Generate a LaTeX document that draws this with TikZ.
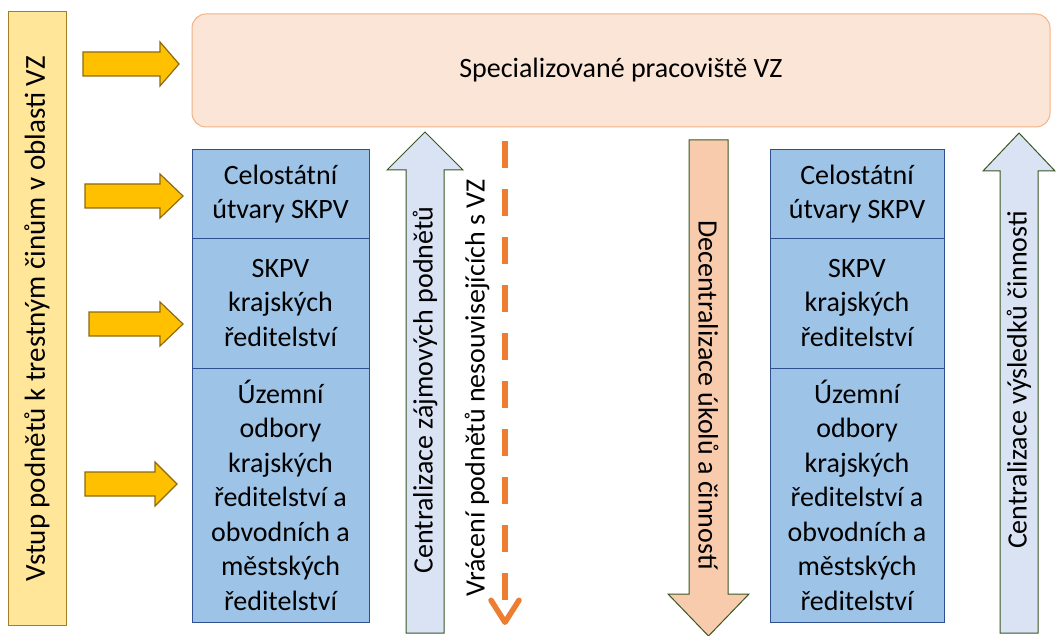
\documentclass[tikz,border=0pt]{standalone}
\usepackage{fontspec}
\setmainfont{Carlito}
\usetikzlibrary{arrows.meta}
\definecolor{inFill}{HTML}{FFE699}
\definecolor{inDraw}{HTML}{A08020}
\definecolor{yaFill}{HTML}{FFC000}
\definecolor{yaDraw}{HTML}{8C6A10}
\definecolor{specFill}{HTML}{FBE5D6}
\definecolor{specDraw}{HTML}{F4B183}
\definecolor{blueFill}{HTML}{9DC3E6}
\definecolor{blueDraw}{HTML}{2F4F8F}
\definecolor{upFill}{HTML}{DAE3F3}
\definecolor{downFill}{HTML}{F8CBAD}
\definecolor{arDraw}{HTML}{385723}
\definecolor{dashCol}{HTML}{ED7D31}
\begin{document}
\begin{tikzpicture}[x=1pt,y=-1pt,
  every node/.style={font=\fontsize{28}{34.5}\selectfont, text=black, inner sep=0pt},
  inbox/.style={draw=inDraw, fill=inFill, line width=1pt},
  yarrow/.style={draw=yaDraw, fill=yaFill, line width=1.2pt},
  specbox/.style={draw=specDraw, fill=specFill, line width=1pt, rounded corners=14pt},
  bluebox/.style={draw=blueDraw, fill=blueFill, line width=1pt, align=center},
  uparrow/.style={draw=arDraw, fill=upFill, line width=1pt},
  downarrow/.style={draw=arDraw, fill=downFill, line width=1pt},
  dasharrow/.style={draw=dashCol, line width=5.5pt, dash pattern=on 27pt off 21pt,
    -{Straight Barb[length=22pt,width=28pt,line width=5.5pt,round]}}
]
\useasboundingbox (0,0) rectangle (1056,636);

% left input box
\node (input) [inbox, minimum width=58pt, minimum height=613pt] at (37,318.5) {};
\node (inputtext) [rotate=90, font=\fontsize{29}{35}\selectfont] at (input.center) {Vstup podnětů k trestným činům v oblasti VZ};

% top box
\node (spec) [specbox, minimum width=858pt, minimum height=113pt] at (621,70.5) {Specializované pracoviště VZ};

% yellow arrows: tail x / head start x / tip x / centre y
\foreach \xa/\xh/\xb/\yc in {83/160/179/64, 85/160/183/196, 89/160/183/324, 85/155/177/484}{
  \draw[yarrow] (\xa,\yc-12) -- (\xh,\yc-12) -- (\xh,\yc-22) -- (\xb,\yc)
     -- (\xh,\yc+22) -- (\xh,\yc+12) -- (\xa,\yc+12) -- cycle;
}

% left column
\node (l1) [bluebox, minimum width=177pt, minimum height=88pt] at (280.5,194) {Celostátní\\útvary SKPV};
\node (l2) [bluebox, minimum width=177pt, minimum height=130pt] at (280.5,303) {SKPV\\krajských\\ředitelství};
\node (l3) [bluebox, minimum width=177pt, minimum height=254pt] at (280.5,495) {Územní\\odbory\\krajských\\ředitelství a\\obvodních a\\městských\\ředitelství};

% right column
\node (r1) [bluebox, minimum width=174pt, minimum height=88pt] at (857,194) {Celostátní\\útvary SKPV};
\node (r2) [bluebox, minimum width=174pt, minimum height=130pt] at (857,303) {SKPV\\krajských\\ředitelství};
\node (r3) [bluebox, minimum width=174pt, minimum height=254pt] at (857,495) {Územní\\odbory\\krajských\\ředitelství a\\obvodních a\\městských\\ředitelství};

% up arrow: centralizace zajmovych podnetu
\draw[uparrow] (406,633) -- (406,170) -- (387,170) -- (425,132) -- (463,170) -- (444,170) -- (444,633) -- cycle;
\node (cz) [rotate=90] at (425,390) {Centralizace zájmových podnětů};

% dashed return arrow
\coordinate (dtop) at (505,141);
\coordinate (dbot) at (505,625);
\draw[dasharrow] (dtop) -- (dbot);
\node (vr) [rotate=90] at (477,388) {Vrácení podnětů nesouvisejících s VZ};

% down arrow: decentralizace
\draw[downarrow] (689,140) -- (728,140) -- (728,594) -- (749,594) -- (708.5,636) -- (668,594) -- (689,594) -- cycle;
\node (dc) [rotate=-90] at (708.5,395) {Decentralizace úkolů a činností};

% right up arrow
\draw[uparrow] (1000,633) -- (1000,171) -- (983,171) -- (1019,133) -- (1055,171) -- (1038,171) -- (1038,633) -- cycle;
\node (cv) [rotate=90] at (1019,380) {Centralizace výsledků činnosti};
\end{tikzpicture}
\end{document}
